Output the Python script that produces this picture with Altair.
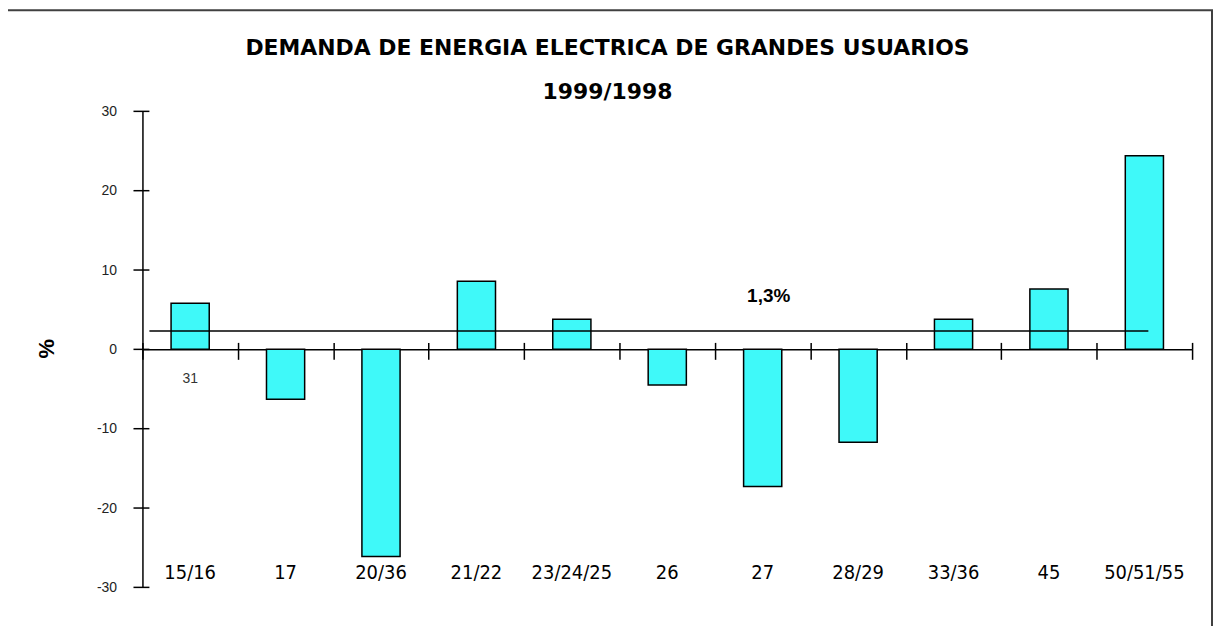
import altair as alt
import pandas as pd

# ---- data ----
CATEGORIES = ["15/16", "17", "20/36", "21/22", "23/24/25", "26", "27",
              "28/29", "33/36", "45", "50/51/55"]
VALUES = [5.8, -6.3, -26.1, 8.6, 3.8, -4.5, -17.3, -11.7, 3.8, 7.6, 24.4]
Y_TICKS = [-30, -20, -10, 0, 10, 20, 30]
AVG_VALUE = 2.3
AVG_START = ["15/16"]
AVG_END = ["50/51/55"]
AVG_LABEL = ["1,3%"]
AVG_LABEL_CAT = ["27"]
AVG_LABEL_Y = [6.7]
STRAY_LABEL = ["31"]
STRAY_CAT = ["15/16"]
STRAY_Y = [-3.7]
CAT_LABEL_Y = -28.2
TITLE_LINES = ["DEMANDA DE ENERGIA ELECTRICA DE GRANDES USUARIOS", "1999/1998"]
Y_TITLE = "%"

W, H = 1054, 478

bars_df = pd.DataFrame({"cat": CATEGORIES, "value": VALUES})
ticks_df = pd.DataFrame({"t": Y_TICKS})
avg_df = pd.DataFrame({"start": AVG_START, "end": AVG_END, "v": [AVG_VALUE]})
avg_lbl_df = pd.DataFrame({"cat": AVG_LABEL_CAT, "v": AVG_LABEL_Y, "txt": AVG_LABEL})
stray_df = pd.DataFrame({"cat": STRAY_CAT, "v": STRAY_Y, "txt": STRAY_LABEL})

x_scale = alt.Scale(domain=CATEGORIES, paddingInner=0, paddingOuter=0)
y_scale = alt.Scale(domain=[-30, 30], nice=False, zero=False)

bars = alt.Chart(bars_df).mark_bar(
    fill="#3ff9f9", stroke="black", strokeWidth=1.5,
    width=alt.RelativeBandSize(0.4),
).encode(
    x=alt.X("cat:N", scale=x_scale, sort=CATEGORIES,
            axis=alt.Axis(orient="bottom", offset=-H / 2, title=None, labels=False,
                          ticks=True, tickBand="extent", tickSize=10,
                          tickColor="black", tickWidth=1.5, domain=True,
                          domainColor="black", domainWidth=1.5, grid=False)),
    y=alt.Y("value:Q", scale=y_scale,
            axis=alt.Axis(values=Y_TICKS, title=Y_TITLE, ticks=False, grid=False,
                          labelExpr="'' + datum.value",
                          labelPadding=26, labelFont="Liberation Sans",
                          labelFontSize=14, labelColor="#222222",
                          domainColor="black", domainWidth=1.5,
                          titleFont="Liberation Sans", titleFontSize=22,
                          titleFontWeight="bold", titleColor="black",
                          titleX=-96, titleY=H / 2 - 1, titleAngle=270,
                          titleAlign="center", titleBaseline="middle")),
)

ytick_rules = alt.Chart(ticks_df).mark_rule(stroke="black", strokeWidth=1.5).encode(
    y=alt.Y("t:Q", scale=y_scale, axis=None),
    x=alt.value(-9), x2=alt.value(7),
)

cat_labels = alt.Chart(bars_df).mark_text(
    font="Liberation Sans Narrow, DejaVu Sans Condensed, Arial Narrow, sans-serif",
    fontSize=20, color="black", baseline="middle", align="center"
).encode(
    x=alt.X("cat:N", scale=x_scale, sort=CATEGORIES,
            axis=alt.Axis(orient="top", offset=-H / 2, title=None, labels=False,
                          ticks=True, tickBand="extent", tickSize=7,
                          tickColor="black", tickWidth=1.5, domain=False, grid=False)),
    y=alt.Y(datum=CAT_LABEL_Y, scale=y_scale, axis=None),
    text="cat:N",
)

avg_rule = alt.Chart(avg_df).mark_rule(
    stroke="black", strokeWidth=1.5, xOffset=7, x2Offset=4
).encode(
    x=alt.X("start:N", scale=x_scale, sort=CATEGORIES, bandPosition=0, axis=None),
    x2=alt.X2("end:N"),
    y=alt.Y("v:Q", scale=y_scale, axis=None),
)

avg_label = alt.Chart(avg_lbl_df).mark_text(
    font="Liberation Sans", fontSize=19, fontWeight="bold", color="black",
    dx=6, baseline="middle"
).encode(
    x=alt.X("cat:N", scale=x_scale, sort=CATEGORIES, axis=None),
    y=alt.Y("v:Q", scale=y_scale, axis=None),
    text="txt:N",
)

stray_label = alt.Chart(stray_df).mark_text(
    font="Liberation Sans", fontSize=14, color="#333333", baseline="middle"
).encode(
    x=alt.X("cat:N", scale=x_scale, sort=CATEGORIES, axis=None),
    y=alt.Y("v:Q", scale=y_scale, axis=None),
    text="txt:N",
)

frame = alt.Chart(pd.DataFrame({"k": [0]})).mark_rect(
    fill="transparent", stroke="#404040", strokeWidth=2
).encode(
    x=alt.value(-136), x2=alt.value(1074),
    y=alt.value(-101.5), y2=alt.value(560),
)

chart = alt.layer(
    frame, bars, cat_labels, ytick_rules, avg_rule, avg_label, stray_label
).resolve_axis(x="independent", y="independent").properties(
    width=W, height=H,
    autosize=alt.AutoSizeParams(type="none"),
    padding={"left": 135, "top": 102.5, "right": 21, "bottom": 37},
    background="white",
    title=alt.TitleParams(
        text=TITLE_LINES, font="DejaVu Sans", fontSize=22, fontWeight="bold",
        color="black", anchor="middle", dx=-60, offset=-95, lineHeight=44,
    ),
).configure_view(stroke=None)

chart.save("out.html", embed_options={"renderer": "svg", "actions": False})
